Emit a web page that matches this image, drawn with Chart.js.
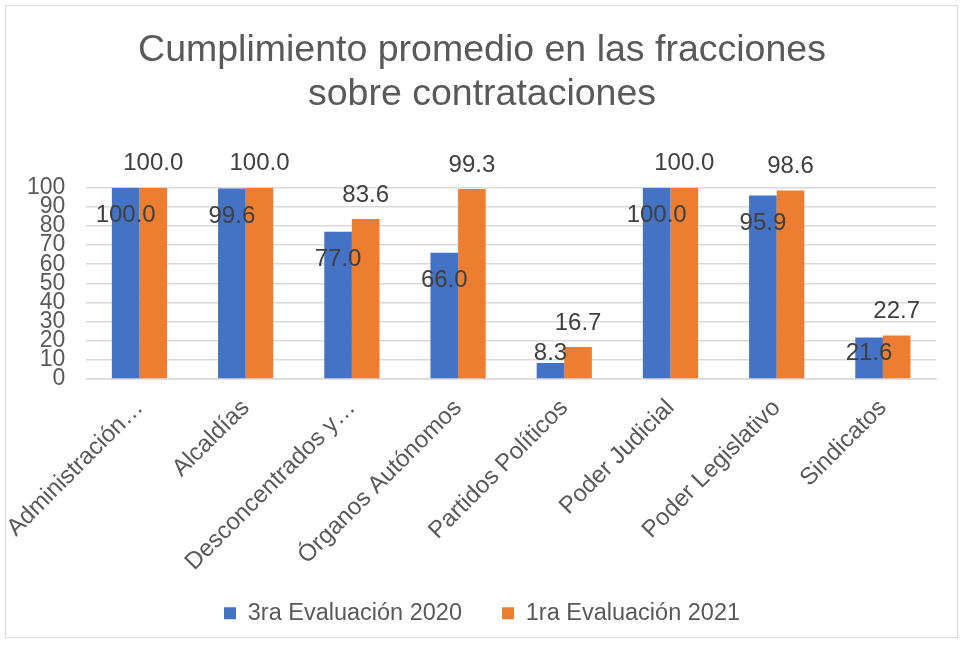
<!DOCTYPE html>
<html>
<head>
<meta charset="utf-8">
<script src="https://cdn.jsdelivr.net/npm/chart.js@4"></script>
<style>
  html, body { margin: 0; padding: 0; background: #fff; }
  #wrap { position: relative; width: 964px; height: 646px; }
  #frame { position: absolute; left: 5px; top: 5px; width: 951px; height: 631px;
           border: 1px solid #d9d9d9; pointer-events: none; }
</style>
</head>
<body>
<div id="wrap">
  <canvas id="myChart" width="964" height="646"></canvas>
  <div id="frame"></div>
</div>
<script>
const categories = ["Administración…", "Alcaldías", "Desconcentrados y…", "Órganos Autónomos",
  "Partidos Políticos", "Poder Judicial", "Poder Legislativo", "Sindicatos"];
const eval2020 = [100.0, 99.6, 77.0, 66.0, 8.3, 100.0, 95.9, 21.6];
const eval2021 = [100.0, 100.0, 83.6, 99.3, 16.7, 100.0, 98.6, 22.7];
const seriesNames = ["3ra Evaluación 2020", "1ra Evaluación 2021"];

const FONT = "'Liberation Sans', Arial, sans-serif";
const GREY = "#595959";

// Excel-like data labels: blue inside near the top, orange above the bar
const barLabels = {
  id: "barLabels",
  afterDatasetsDraw(chart) {
    const ctx = chart.ctx;
    ctx.save();
    ctx.font = "24px " + FONT;
    ctx.fillStyle = "#404040";
    ctx.textAlign = "center";
    ctx.textBaseline = "middle";
    chart.data.datasets.forEach((ds, i) => {
      chart.getDatasetMeta(i).data.forEach((bar, j) => {
        const txt = ds.data[j].toFixed(1);
        let y;
        if (i === 0) {
          y = Math.min(bar.y + 28, bar.base - 25);
        } else {
          y = bar.y - 24;
        }
        ctx.fillText(txt, bar.x, y);
      });
    });
    ctx.restore();
  }
};

// the x axis is squeezed a bit (afterFit), so let its labels run into the legend gap
const unclipX = {
  id: "unclipX",
  afterLayout(chart) {
    chart.scales.x.bottom = chart.height;
  }
};

const ctx = document.getElementById("myChart");

new Chart(ctx, {
  type: "bar",
  data: {
    labels: categories,
    datasets: [
      { label: seriesNames[0], data: eval2020, backgroundColor: "#4472C4",
        barPercentage: 1.0, categoryPercentage: 0.52 },
      { label: seriesNames[1], data: eval2021, backgroundColor: "#ED7D31",
        barPercentage: 1.0, categoryPercentage: 0.52 },
    ],
  },
  options: {
    responsive: false,
    animation: false,
    layout: { padding: { left: 6, right: 6, top: 29, bottom: 11 } },
    plugins: {
      title: {
        display: true,
        text: ["Cumplimiento promedio en las fracciones", "sobre contrataciones"],
        color: GREY,
        font: { family: FONT, size: 37.5, weight: "normal", lineHeight: 1.17 },
        padding: { top: 0, bottom: 71 },
      },
      legend: {
        position: "bottom",
        labels: {
          color: GREY,
          font: { family: FONT, size: 23.5 },
          boxWidth: 12,
          boxHeight: 12,
          padding: 40,
        },
      },
      tooltip: { enabled: false },
    },
    scales: {
      x: {
        grid: { display: false },
        border: { color: "#d9d9d9", width: 1.5 },
        afterFit: (scale) => {
          scale.height -= 22;
          scale.paddingLeft = 81;
          scale.paddingRight = 28;
        },
        ticks: {
          color: GREY,
          font: { family: FONT, size: 24 },
          minRotation: 45,
          maxRotation: 45,
          autoSkip: false,
          padding: 7,
        },
      },
      y: {
        min: 0,
        max: 100,
        border: { display: false },
        grid: { color: "#d9d9d9", lineWidth: 1.5, drawTicks: false },
        ticks: {
          stepSize: 10,
          autoSkip: false,
          color: GREY,
          font: { family: FONT, size: 23, lineHeight: 0.8 },
          padding: 21,
        },
      },
    },
  },
  plugins: [barLabels, unclipX],
});
</script>
</body>
</html>
